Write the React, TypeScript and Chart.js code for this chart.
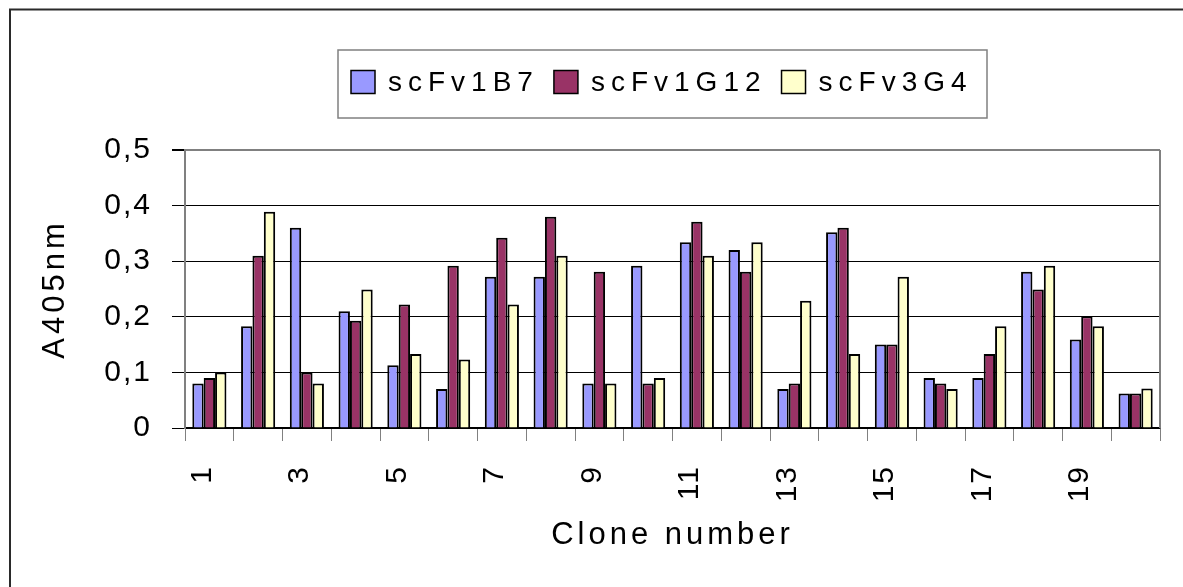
import { useEffect, useRef } from 'react';
import { Chart, registerables } from 'chart.js';

Chart.register(...registerables);

const clones = ['1', '2', '3', '4', '5', '6', '7', '8', '9', '10', '11', '12', '13', '14', '15', '16', '17', '18', '19', '20'];
const seriesNames = ['scFv1B7', 'scFv1G12', 'scFv3G4'];
const scFv1B7 = [0.08, 0.183, 0.36, 0.21, 0.113, 0.07, 0.272, 0.272, 0.08, 0.292, 0.334, 0.32, 0.07, 0.352, 0.15, 0.09, 0.09, 0.281, 0.159, 0.062];
const scFv1G12 = [0.09, 0.31, 0.1, 0.193, 0.222, 0.292, 0.342, 0.38, 0.281, 0.08, 0.371, 0.281, 0.08, 0.36, 0.15, 0.08, 0.133, 0.249, 0.201, 0.062];
const scFv3G4 = [0.1, 0.389, 0.08, 0.249, 0.133, 0.123, 0.222, 0.31, 0.08, 0.09, 0.31, 0.334, 0.229, 0.133, 0.272, 0.07, 0.183, 0.292, 0.183, 0.071];
const seriesColors = ['#9999FF', '#993366', '#FFFFCC'];
const yMin = 0;
const yMax = 0.5;
const yStep = 0.1;
const xTitle = 'Clone number';
const yTitle = 'A405nm';

const FONT = '"Liberation Sans", Arial, sans-serif';

export default function App() {
  const ref = useRef<HTMLCanvasElement>(null);

  useEffect(() => {
    document.body.style.margin = '0';
    const canvas = ref.current!;

    const decor = {
      id: 'decor',
      beforeDraw(chart: any) {
        chart.ctx.letterSpacing = '4px';
      },
      afterDatasetsDraw(chart: any) {
        chart.ctx.letterSpacing = '2px';
      },
      afterDraw(chart: any) {
        const ctx = chart.ctx;
        const a = chart.chartArea;
        ctx.save();
        ctx.letterSpacing = '0px';
        // right border of plot area
        ctx.strokeStyle = '#808080';
        ctx.lineWidth = 2;
        ctx.beginPath();
        ctx.moveTo(a.right, a.top);
        ctx.lineTo(a.right, a.bottom);
        ctx.stroke();
        // outer frame
        ctx.strokeStyle = '#2a2a2a';
        ctx.lineWidth = 2;
        ctx.beginPath();
        ctx.moveTo(10, chart.height + 2);
        ctx.lineTo(10, 9.5);
        ctx.lineTo(chart.width + 2, 9.5);
        ctx.stroke();
        // legend
        const lx = 338, ly = 50, lw = 649, lh = 68;
        ctx.strokeStyle = '#808080';
        ctx.lineWidth = 1.5;
        ctx.strokeRect(lx, ly, lw, lh);
        ctx.font = '28px ' + FONT;
        ctx.letterSpacing = '6px';
        ctx.textBaseline = 'middle';
        ctx.textAlign = 'left';
        const cy = 82;
        let x = 351;
        seriesNames.forEach((name, i) => {
          ctx.fillStyle = seriesColors[i];
          ctx.fillRect(x, cy - 11.5, 24, 23);
          ctx.strokeStyle = '#000';
          ctx.lineWidth = 1.5;
          ctx.strokeRect(x, cy - 11.5, 24, 23);
          ctx.fillStyle = '#000';
          ctx.fillText(name, x + 37, cy + 1);
          x += 37 + ctx.measureText(name).width + 15;
        });
        ctx.restore();
        ctx.letterSpacing = '0px';
      },
    };

    const values = [scFv1B7, scFv1G12, scFv3G4];

    const chart = new Chart(canvas, {
      type: 'bar',
      data: {
        labels: clones,
        datasets: seriesNames.map((name, i) => ({
          label: name,
          data: values[i],
          backgroundColor: seriesColors[i],
          borderColor: '#000',
          borderWidth: 2,
          categoryPercentage: 0.7,
          barPercentage: 1.0,
        })),
      },
      options: {
        animation: false,
        responsive: false,
        devicePixelRatio: 1,
        layout: { padding: { top: 150, right: 23, bottom: 0, left: 0 } },
        plugins: {
          legend: { display: false },
          tooltip: { enabled: false },
        },
        scales: {
          x: {
            afterFit: (scale: any) => {
              scale.height = 159;
              scale.paddingLeft = 0;
              scale.paddingRight = 0;
            },
            grid: {
              display: true,
              offset: true,
              drawOnChartArea: false,
              drawTicks: true,
              tickLength: 13,
              tickColor: '#808080',
              lineWidth: 1,
            },
            border: { display: true, color: '#000', width: 1.5 },
            ticks: {
              z: 1,
              autoSkip: false,
              maxRotation: 90,
              minRotation: 90,
              padding: 24,
              labelOffset: -7,
              color: '#000',
              font: { family: FONT, size: 30 },
              callback: (_v: any, idx: number) => (idx % 2 === 0 ? clones[idx] : ''),
            },
            title: {
              display: true,
              text: xTitle,
              color: '#000',
              font: { family: FONT, size: 31 },
              padding: { top: 0, bottom: 33 },
            },
          },
          y: {
            min: yMin,
            max: yMax,
            afterFit: (scale: any) => { scale.width = 185; },
            grid: {
              color: (c: any) => (c.tick && Math.abs(c.tick.value - yMax) < 1e-9 ? '#808080' : '#000'),
              lineWidth: (c: any) => (c.tick && Math.abs(c.tick.value - yMax) < 1e-9 ? 2 : 1),
              tickColor: '#000',
              tickLength: 13,
              drawTicks: true,
            },
            border: { display: true, color: '#808080', width: 2 },
            ticks: {
              z: 1,
              stepSize: yStep,
              padding: 20,
              color: '#000',
              font: { family: FONT, size: 30 },
              callback: (v: any) => (v === 0 ? '0' : Number(v).toFixed(1).replace('.', ',')),
            },
            title: {
              display: true,
              text: yTitle,
              color: '#000',
              font: { family: FONT, size: 31 },
              padding: { top: 37, bottom: 0 },
            },
          },
        },
      },
      plugins: [decor],
    } as any);

    return () => chart.destroy();
  }, []);

  return (
    <div style={{ width: 1183, height: 587, background: '#fff' }}>
      <canvas ref={ref} width={1183} height={587} style={{ display: 'block' }} />
    </div>
  );
}
